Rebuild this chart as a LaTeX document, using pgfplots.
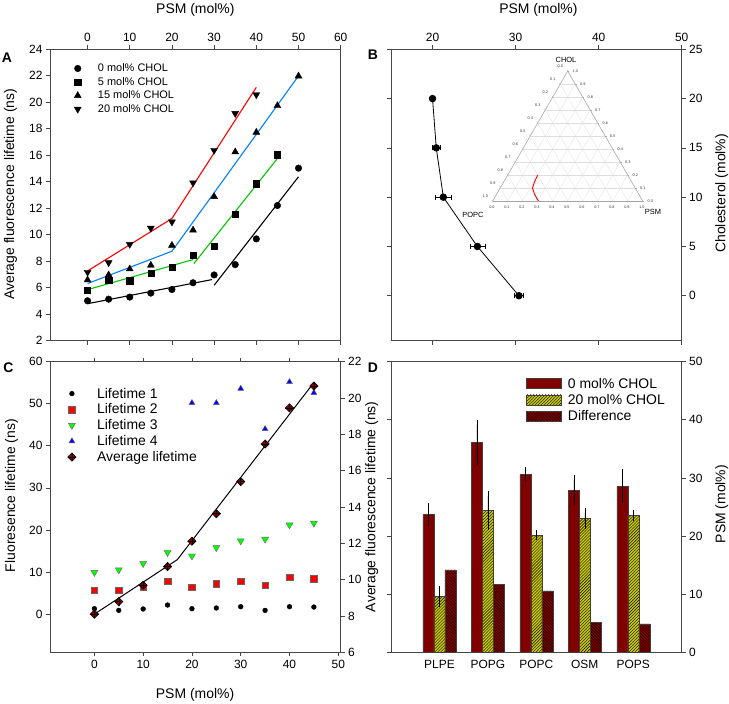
\documentclass[border=0pt]{standalone}
\usepackage{fontspec}
\setmainfont{Liberation Sans}
\usepackage{pgfplots}
\pgfplotsset{compat=1.18}
\usepgfplotslibrary{ternary}
\usetikzlibrary{patterns}

\definecolor{maroon}{RGB}{128,0,0}
\definecolor{oliveyel}{RGB}{204,204,0}
\definecolor{lineblue}{RGB}{0,128,255}
\definecolor{linegreen}{RGB}{0,200,0}
\definecolor{axgray}{RGB}{70,70,70}

% diamond with a cross inside (average lifetime)
\pgfdeclareplotmark{dplus}{%
  \pgfpathmoveto{\pgfqpoint{0pt}{\pgfplotmarksize}}%
  \pgfpathlineto{\pgfqpoint{\pgfplotmarksize}{0pt}}%
  \pgfpathlineto{\pgfqpoint{0pt}{-\pgfplotmarksize}}%
  \pgfpathlineto{\pgfqpoint{-\pgfplotmarksize}{0pt}}%
  \pgfpathclose
  \pgfusepathqfillstroke
  \pgfpathmoveto{\pgfqpoint{0pt}{\pgfplotmarksize}}%
  \pgfpathlineto{\pgfqpoint{0pt}{-\pgfplotmarksize}}%
  \pgfpathmoveto{\pgfqpoint{-\pgfplotmarksize}{0pt}}%
  \pgfpathlineto{\pgfqpoint{\pgfplotmarksize}{0pt}}%
  \pgfusepathqstroke
}

\pgfplotsset{
  every axis/.append style={
    scale only axis,
    tick label style={font=\fontsize{12}{14}\selectfont},
    label style={font=\fontsize{14}{16}\selectfont},
    /pgf/number format/assume math mode=true,
    tick align=outside,
    major tick length=4bp,
    axis line style={axgray, line width=0.8bp},
    tick style={axgray, line width=0.7bp},
  },
  mk/.style={only marks, legend image code/.code={\path (-4bp,0bp) (#1,0bp); \draw[##1] plot coordinates {(0bp,0bp)};}},
  mk/.default=18bp,
  barleg/.style={legend image code/.code={\draw[##1] (0bp,-5bp) rectangle (35bp,5bp); \path (39bp,0bp);}},
}

\begin{document}
\begin{tikzpicture}
\useasboundingbox (0,0) rectangle (729bp,704bp);

% ---------------- A ----------------
\begin{axis}[
  at={(50bp,363.2bp)}, anchor=south west,
  width=290.7bp, height=291.5bp,
  xmin=-8.9, xmax=60, ymin=2, ymax=24,
  xtick={0,10,...,60}, ytick={2,4,...,24},
  xticklabel pos=right, ytick pos=left,
  xlabel={PSM (mol\%)}, ylabel={Average fluorescence lifetime (ns)},
  xlabel style={at={(axis description cs:0.5,1.135)}, anchor=center},
  ylabel style={at={(axis description cs:-0.136,0.503)}, anchor=center},
  legend style={at={(axis description cs:0.07,0.965)}, anchor=north west,
    draw=none, fill=none, font=\fontsize{11}{11.6}\selectfont, row sep=0bp},
  legend cell align=left,
]
\addplot[mk, black, mark=*, mark size=3.3bp] coordinates {
  (0,5.02) (5,5.14) (10,5.3) (15,5.6) (20,5.87) (25,6.38) (30,6.97)
  (35,7.75) (40,9.69) (45,12.21) (50,15.03)};
\addlegendentry{\strut 0 mol\% CHOL}
\addplot[mk, black, mark=square*, mark size=3.1bp] coordinates {
  (0,5.83) (5,6.58) (10,6.53) (15,7.1) (20,7.54) (25,8.48) (30,9.14)
  (35,11.53) (40,13.85) (45,16.04)};
\addlegendentry{\strut 5 mol\% CHOL}
\addplot[mk, black, mark=triangle*, mark size=4bp] coordinates {
  (0,6.59) (5,6.97) (10,7.42) (15,7.7) (20,9.2) (25,10.35) (30,12.88)
  (35,16.25) (40,17.73) (45,19.74) (50,21.98)};
\addlegendentry{\strut 15 mol\% CHOL}
\addplot[mk, black, mark=triangle*, mark options={rotate=180}, mark size=4bp] coordinates {
  (0,7.17) (5,7.9) (10,9.28) (15,10.5) (20,10.97) (25,13.92) (30,16.38)
  (35,19.16) (40,20.57)};
\addlegendentry{\strut 20 mol\% CHOL}
% fitted segments
\addplot[black, line width=1.1bp, forget plot] coordinates {(0,4.8) (29.5,6.62)};
\addplot[black, line width=1.1bp, forget plot] coordinates {(30,6.19) (50,14.38)};
\addplot[linegreen, line width=1.1bp, forget plot] coordinates {(0,5.86) (25,8.13)};
\addplot[linegreen, line width=1.1bp, forget plot] coordinates {(25.2,7.83) (45,15.76)};
\addplot[lineblue, line width=1.1bp, forget plot] coordinates {(0,6.32) (20,8.76) (50,21.99)};
\addplot[red, line width=1.1bp, forget plot] coordinates {(0,7.27) (20,11.23) (40,21.13)};
\end{axis}

% ---------------- B ----------------
\begin{axis}[
  at={(391bp,363.2bp)}, anchor=south west,
  width=290.7bp, height=291.5bp,
  xmin=15, xmax=50, ymin=-4.57, ymax=25,
  xtick={20,30,40,50}, ytick={0,5,...,25},
  xticklabel pos=right, yticklabel pos=right,
  xlabel={PSM (mol\%)}, ylabel={Cholesterol (mol\%)},
  xlabel style={at={(axis description cs:0.507,1.135)}, anchor=center},
  ylabel style={at={(axis description cs:1.1376,0.506)}, anchor=center},
]
\addplot[black, line width=0.8bp, mark=*, mark size=3.3bp,
  error bars/.cd, x dir=both, x explicit,
  error bar style={black, line width=0.6bp},
  error mark options={black, line width=0.6bp, mark size=2.6bp, rotate=90}]
  coordinates {
  (20,20) +- (0,0)
  (20.45,15) +- (0.5,0)
  (21.3,10) +- (0.95,0)
  (25.4,5) +- (0.9,0)
  (30.4,0) +- (0.5,0)};
\end{axis}

% ternary inset: (x,y,z) = (CHOL, POPC, PSM)
\begin{ternaryaxis}[
  at={(492.7bp,503bp)}, anchor=south west,
  width=150bp, height=129.9bp,
  xtick={0,0.1,0.2,0.3,0.4,0.5,0.6,0.7,0.8,0.9,1.0},
  ytick={0,0.1,0.2,0.3,0.4,0.5,0.6,0.7,0.8,0.9,1.0},
  ztick={0,0.1,0.2,0.3,0.4,0.5,0.6,0.7,0.8,0.9,1.0},
  xticklabels={0.0,0.1,0.2,0.3,0.4,0.5,0.6,0.7,0.8,0.9,1.0},
  yticklabels={0.0,0.1,0.2,0.3,0.4,0.5,0.6,0.7,0.8,0.9,1.0},
  zticklabels={0.0,0.1,0.2,0.3,0.4,0.5,0.6,0.7,0.8,0.9,1.0},
  grid=major,
  major grid style={black!13, line width=0.3bp},
  axis line style={black!35, line width=0.5bp},
  tick style={black!35, line width=0.3bp},
  major tick length=1.5bp,
  tick label style={font=\fontsize{3.8}{4}\selectfont, text=black!80},
]
\addplot3[red, line width=0.9bp, no markers] coordinates {
  (0,0.695,0.305) (0.05,0.695,0.255) (0.10,0.685,0.215) (0.15,0.645,0.205) (0.20,0.60,0.20)};
\end{ternaryaxis}
\node[font=\fontsize{7.5}{8}\selectfont] at (566bp,644bp) {CHOL};
\node[font=\fontsize{7.5}{8}\selectfont] at (473bp,489bp) {POPC};
\node[font=\fontsize{7.5}{8}\selectfont] at (653bp,492bp) {PSM};

% ---------------- C ----------------
\begin{axis}[
  at={(50bp,51.7bp)}, anchor=south west,
  width=290.7bp, height=290.6bp,
  xmin=-9.1, xmax=50.5, ymin=-9.1, ymax=60,
  xtick={0,10,...,50}, ytick={0,10,...,60},
  ytick pos=left,
  xlabel={PSM (mol\%)}, ylabel={Fluoresence lifetime (ns)},
  xlabel style={at={(axis description cs:0.499,-0.147)}, anchor=center},
  ylabel style={at={(axis description cs:-0.132,0.539)}, anchor=center},
]
\addplot[only marks, black, mark=*, mark size=2.4bp] coordinates {
  (0,1.27) (5,0.87) (10,1.2) (15,2.14) (20,1.27) (25,1.43) (30,1.74)
  (35,0.87) (40,1.74) (45,1.66)};
\addplot[only marks, mark=square*, mark size=3.3bp,
  mark options={fill=red, draw=black!60, line width=0.4bp}] coordinates {
  (0,5.7) (5,5.63) (10,6.4) (15,7.77) (20,6.34) (25,7.2) (30,7.77)
  (35,6.9) (40,8.8) (45,8.4)};
\addplot[only marks, mark=triangle*, mark size=4bp,
  mark options={rotate=180, fill=green, draw=black!60, line width=0.4bp}] coordinates {
  (0,9.9) (5,10.5) (10,12.0) (15,14.6) (20,13.8) (25,15.8) (30,17.4)
  (35,17.8) (40,21.2) (45,21.6)};
\addplot[only marks, mark=triangle*, mark size=3.4bp,
  mark options={fill=blue, draw=black!60, line width=0.4bp}] coordinates {
  (20,50.2) (25,50.2) (30,53.6) (35,44.0) (40,55.2) (45,52.6)};
\end{axis}
\begin{axis}[
  at={(50bp,51.7bp)}, anchor=south west,
  width=290.7bp, height=290.6bp,
  xmin=-9.1, xmax=50.5, ymin=6, ymax=22,
  axis x line=none, axis y line*=right,
  ytick={6,8,...,22},
  legend style={at={(axis description cs:0.05,0.925)}, anchor=north west,
    draw=none, fill=none, font=\fontsize{14}{14.9}\selectfont, row sep=0bp},
  legend cell align=left,
]
\addlegendimage{mk=23bp, black, mark=*, mark size=2.4bp}
\addlegendentry{\strut Lifetime 1}
\addlegendimage{mk=23bp, mark=square*, mark size=3.3bp, mark options={fill=red, draw=black!60, line width=0.4bp}}
\addlegendentry{\strut Lifetime 2}
\addlegendimage{mk=23bp, mark=triangle*, mark size=4bp, mark options={rotate=180, fill=green, draw=black!60, line width=0.4bp}}
\addlegendentry{\strut Lifetime 3}
\addlegendimage{mk=23bp, mark=triangle*, mark size=3.4bp, mark options={fill=blue, draw=black!60, line width=0.4bp}}
\addlegendentry{\strut Lifetime 4}
\addplot[black, line width=1bp, forget plot] coordinates {(0,8.1) (17,11.1) (45,20.85)};
\addplot[mk=23bp, mark=dplus, mark size=4.2bp, mark options={fill=maroon, draw=black, line width=0.5bp}] coordinates {
  (0,8.1) (5,8.79) (10,9.69) (15,10.72) (20,12.12) (25,13.63) (30,15.4)
  (35,17.47) (40,19.46) (45,20.66)};
\addlegendentry{\strut Average lifetime}
\end{axis}

% ---------------- D ----------------
\begin{axis}[
  at={(391bp,51.7bp)}, anchor=south west,
  width=290.7bp, height=290.6bp,
  xmin=-1, xmax=5, ymin=0, ymax=50,
  xtick={0,1,2,3,4}, xticklabels={PLPE,POPG,POPC,OSM,POPS},
  xtick style={draw=none},
  ytick={0,10,...,50}, yticklabel pos=right,
  ybar=0pt, bar width=11bp,
  ylabel={PSM (mol\%)},
  ylabel style={at={(axis description cs:1.1376,0.51)}, anchor=center},
  clip=false,
  legend style={at={(axis description cs:0.455,0.96)}, anchor=north west,
    draw=none, fill=none, font=\fontsize{14}{15.5}\selectfont, row sep=0bp},
  legend cell align=left,
]
\addplot[barleg, fill=maroon, draw=black!75, line width=0.5bp,
  error bars/.cd, y dir=both, y explicit,
  error bar style={black, line width=0.6bp},
  error mark options={black, line width=0.6bp, mark size=5bp}]
  coordinates {(0,23.7) +- (0,1.1) (1,36.1) +- (0,3.0) (2,30.6) +- (0,0.45)
               (3,27.9) +- (0,1.7) (4,28.6) +- (0,2.0)};
\addlegendentry{\strut 0 mol\% CHOL}
\addplot[barleg, fill=oliveyel, draw=black!75, line width=0.5bp,
  postaction={pattern=north east lines},
  error bars/.cd, y dir=both, y explicit,
  error bar style={black, line width=0.6bp},
  error mark options={black, line width=0.6bp, mark size=5bp}]
  coordinates {(0,9.6) +- (0,1.0) (1,24.4) +- (0,2.5) (2,20.1) +- (0,0)
               (3,23.05) +- (0,0.9) (4,23.6) +- (0,0.1)};
\addlegendentry{\strut 20 mol\% CHOL}
\addplot[barleg, fill=maroon, draw=black!75, line width=0.5bp,
  postaction={pattern=north west lines}]
  coordinates {(0,14.2) (1,11.75) (2,10.55) (3,5.1) (4,4.9)};
\addlegendentry{\strut Difference}
\node[rotate=90, font=\fontsize{14}{16}\selectfont] at (axis description cs:-0.066,0.501)
  {Average fluorescence lifetime (ns)};
\end{axis}

% panel letters
\node[font=\fontsize{14}{16}\selectfont\bfseries] at (7bp,646.5bp) {A};
\node[font=\fontsize{14}{16}\selectfont\bfseries] at (373bp,649bp) {B};
\node[font=\fontsize{14}{16}\selectfont\bfseries] at (8.5bp,336.5bp) {C};
\node[font=\fontsize{14}{16}\selectfont\bfseries] at (373bp,336.7bp) {D};
\end{tikzpicture}
\end{document}
